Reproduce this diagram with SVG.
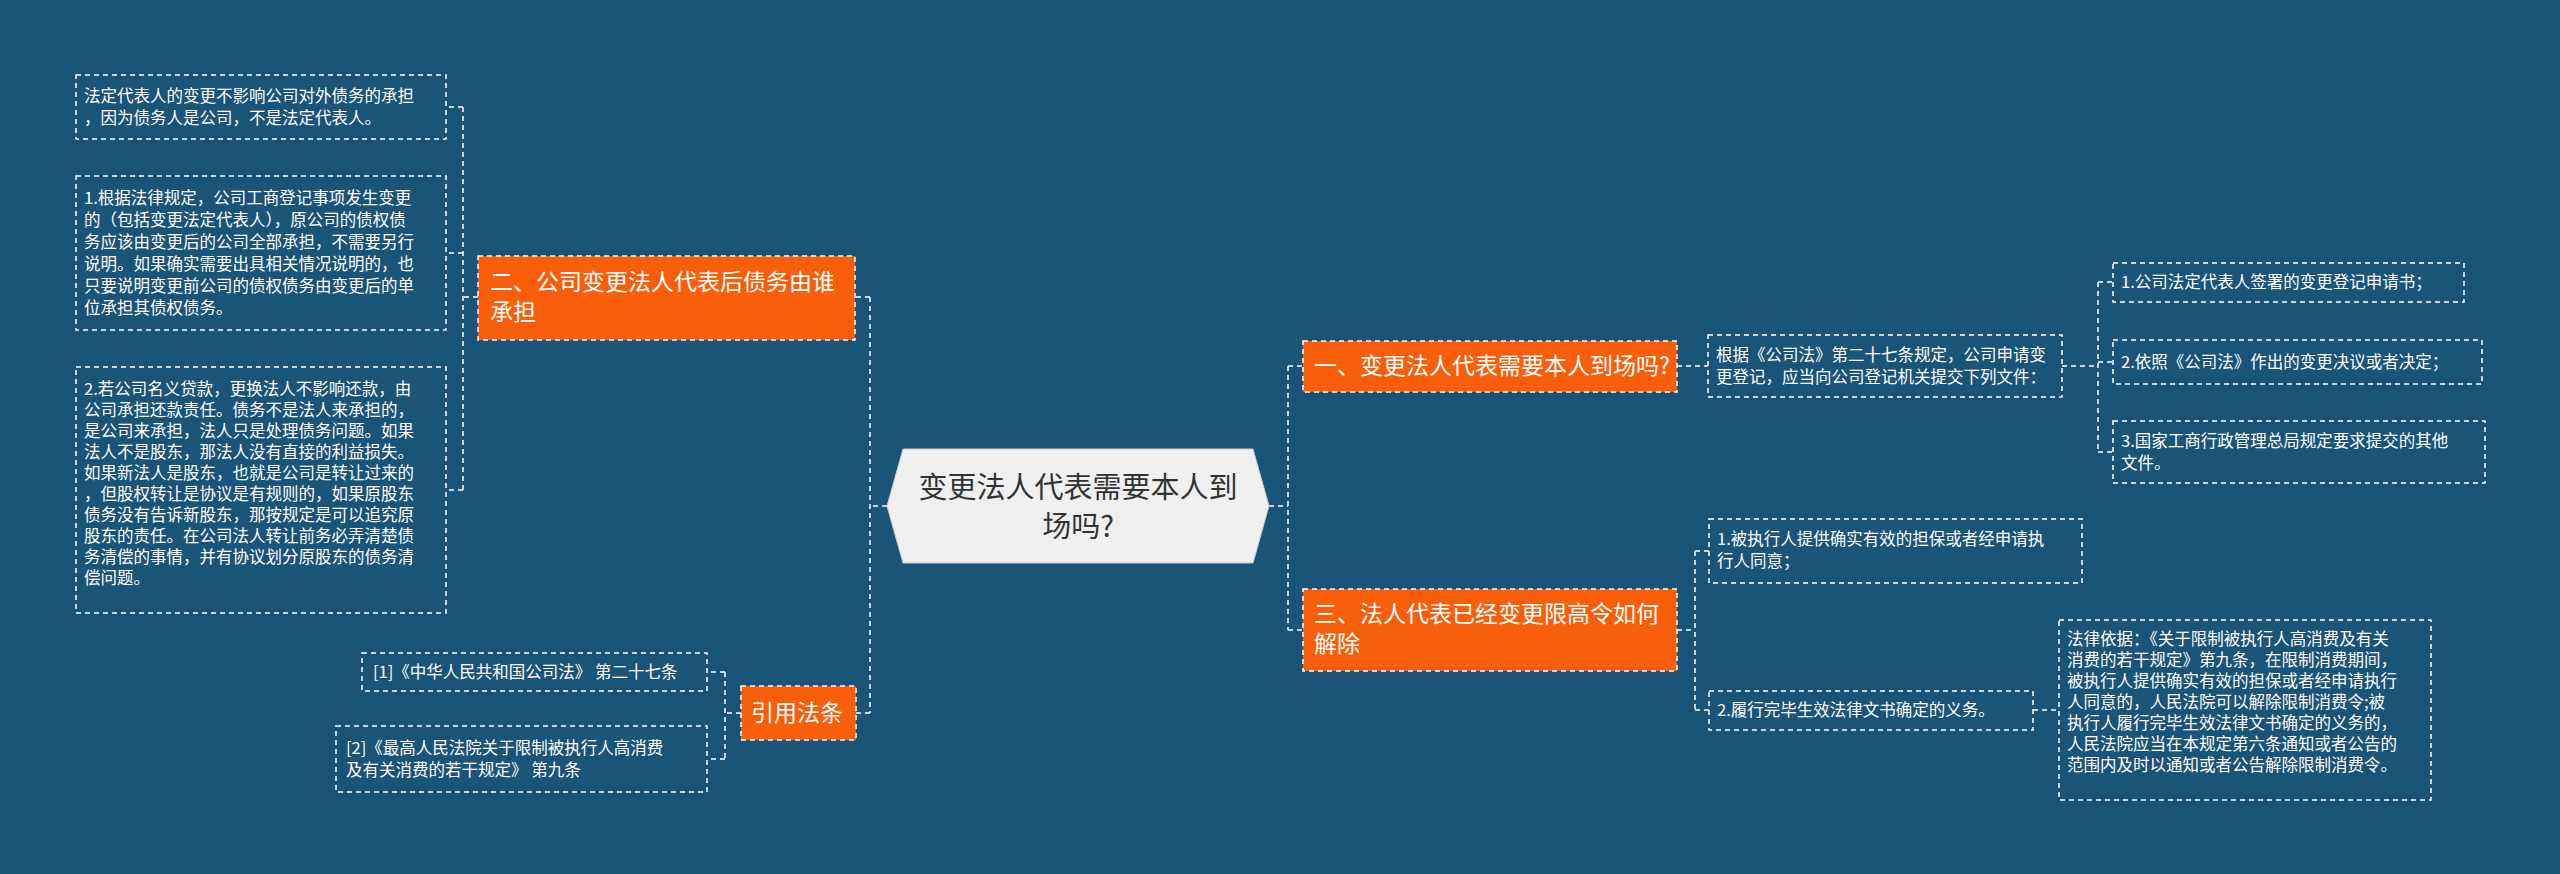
<svg xmlns="http://www.w3.org/2000/svg" width="2560" height="874" viewBox="0 0 2560 874">
<style>
.bg{fill:#1a5479}
.leaf{fill:none;stroke:#fff;stroke-width:1.5;stroke-dasharray:5 4}
.org{fill:#f95f0a;stroke:#fff;stroke-width:1.5;stroke-dasharray:5 4}
.c{fill:none;stroke:#fff;stroke-width:1.5;stroke-dasharray:5 4}
text{font-family:"Noto Sans CJK SC","Noto Sans",sans-serif;fill:#fff}
.s{font-size:16.5px}
.o{font-size:23px}
.m{font-size:29px;fill:#333}
</style>
<rect class="bg" width="2560" height="874"/>
<g id="connectors">
<path class="c" d="M1269 506 H1288 M1288 366 V630 M1288 366 H1303 M1288 630 H1303"/>
<path class="c" d="M887 506 H870 M870 297 V713 M870 297 H855 M870 713 H856"/>
<path class="c" d="M478 297 H463 M463 107 V490 M463 107 H446 M463 253 H446 M463 490 H446"/>
<path class="c" d="M741 713 H725 M725 672 V759 M725 672 H707 M725 759 H707"/>
<path class="c" d="M1677 366 H1708 M2062 366 H2098 M2098 282 V452 M2098 282 H2113 M2098 362 H2113 M2098 452 H2113"/>
<path class="c" d="M1677 630 H1695 M1695 551 V710 M1695 551 H1709 M1695 710 H1709 M2033 710 H2059"/>
</g>
<g id="center">
<polygon points="887,506 903,449 1253,449 1269,506 1253,563 903,563" fill="#f0f0f0" stroke="#ccc" stroke-width="1"/>
<text class="m" text-anchor="middle"><tspan x="1078" y="498">变更法人代表需要本人到</tspan><tspan x="1078" y="537">场吗?</tspan></text>
</g>
<g id="n2">
<rect class="org" x="478" y="256" width="377" height="84"/>
<text class="o"><tspan x="490" y="290">二、公司变更法人代表后债务由谁</tspan><tspan x="490" y="320">承担</tspan></text>
</g>
<g id="n2a">
<rect class="leaf" x="76" y="75" width="370" height="64"/>
<text class="s"><tspan x="84" y="102">法定代表人的变更不影响公司对外债务的承担</tspan><tspan x="84" y="124">，因为债务人是公司，不是法定代表人。</tspan></text>
</g>
<g id="n2b">
<rect class="leaf" x="76" y="176" width="370" height="154"/>
<text class="s"><tspan x="84" y="204">1.根据法律规定，公司工商登记事项发生变更</tspan><tspan x="84" y="226">的（包括变更法定代表人），原公司的债权债</tspan><tspan x="84" y="248">务应该由变更后的公司全部承担，不需要另行</tspan><tspan x="84" y="270">说明。如果确实需要出具相关情况说明的，也</tspan><tspan x="84" y="292">只要说明变更前公司的债权债务由变更后的单</tspan><tspan x="84" y="314">位承担其债权债务。</tspan></text>
</g>
<g id="n2c">
<rect class="leaf" x="76" y="367" width="370" height="246"/>
<text class="s"><tspan x="84" y="395">2.若公司名义贷款，更换法人不影响还款，由</tspan><tspan x="84" y="416">公司承担还款责任。债务不是法人来承担的，</tspan><tspan x="84" y="437">是公司来承担，法人只是处理债务问题。如果</tspan><tspan x="84" y="458">法人不是股东，那法人没有直接的利益损失。</tspan><tspan x="84" y="479">如果新法人是股东，也就是公司是转让过来的</tspan><tspan x="84" y="500">，但股权转让是协议是有规则的，如果原股东</tspan><tspan x="84" y="521">债务没有告诉新股东，那按规定是可以追究原</tspan><tspan x="84" y="542">股东的责任。在公司法人转让前务必弄清楚债</tspan><tspan x="84" y="563">务清偿的事情，并有协议划分原股东的债务清</tspan><tspan x="84" y="584">偿问题。</tspan></text>
</g>
<g id="cite">
<rect class="org" x="741" y="686" width="115" height="54"/>
<text class="o" x="751" y="721">引用法条</text>
</g>
<g id="cite1">
<rect class="leaf" x="362" y="653" width="345" height="38"/>
<text class="s" x="373" y="678">[1]《中华人民共和国公司法》 第二十七条</text>
</g>
<g id="cite2">
<rect class="leaf" x="336" y="726" width="371" height="66"/>
<text class="s"><tspan x="346" y="754">[2]《最高人民法院关于限制被执行人高消费</tspan><tspan x="346" y="776">及有关消费的若干规定》 第九条</tspan></text>
</g>
<g id="n1">
<rect class="org" x="1303" y="341" width="374" height="51"/>
<text class="o" x="1314" y="374">一、变更法人代表需要本人到场吗?</text>
</g>
<g id="n1a">
<rect class="leaf" x="1708" y="335" width="354" height="62"/>
<text class="s"><tspan x="1716" y="361">根据《公司法》第二十七条规定，公司申请变</tspan><tspan x="1716" y="383">更登记，应当向公司登记机关提交下列文件：</tspan></text>
</g>
<g id="n1a1">
<rect class="leaf" x="2113" y="263" width="351" height="39"/>
<text class="s" x="2121" y="288">1.公司法定代表人签署的变更登记申请书；</text>
</g>
<g id="n1a2">
<rect class="leaf" x="2113" y="340" width="369" height="44"/>
<text class="s" x="2121" y="368">2.依照《公司法》作出的变更决议或者决定；</text>
</g>
<g id="n1a3">
<rect class="leaf" x="2113" y="421" width="372" height="62"/>
<text class="s"><tspan x="2121" y="447">3.国家工商行政管理总局规定要求提交的其他</tspan><tspan x="2121" y="469">文件。</tspan></text>
</g>
<g id="n3">
<rect class="org" x="1303" y="589" width="374" height="82"/>
<text class="o"><tspan x="1314" y="622">三、法人代表已经变更限高令如何</tspan><tspan x="1314" y="652">解除</tspan></text>
</g>
<g id="n3a">
<rect class="leaf" x="1709" y="519" width="373" height="64"/>
<text class="s"><tspan x="1717" y="545">1.被执行人提供确实有效的担保或者经申请执</tspan><tspan x="1717" y="567">行人同意；</tspan></text>
</g>
<g id="n3b">
<rect class="leaf" x="1709" y="691" width="324" height="39"/>
<text class="s" x="1717" y="716">2.履行完毕生效法律文书确定的义务。</text>
</g>
<g id="n3b1">
<rect class="leaf" x="2059" y="620" width="372" height="180"/>
<text class="s"><tspan x="2067" y="645">法律依据：《关于限制被执行人高消费及有关</tspan><tspan x="2067" y="666">消费的若干规定》第九条，在限制消费期间，</tspan><tspan x="2067" y="687">被执行人提供确实有效的担保或者经申请执行</tspan><tspan x="2067" y="708">人同意的，人民法院可以解除限制消费令;被</tspan><tspan x="2067" y="729">执行人履行完毕生效法律文书确定的义务的，</tspan><tspan x="2067" y="750">人民法院应当在本规定第六条通知或者公告的</tspan><tspan x="2067" y="771">范围内及时以通知或者公告解除限制消费令。</tspan></text>
</g>
</svg>
